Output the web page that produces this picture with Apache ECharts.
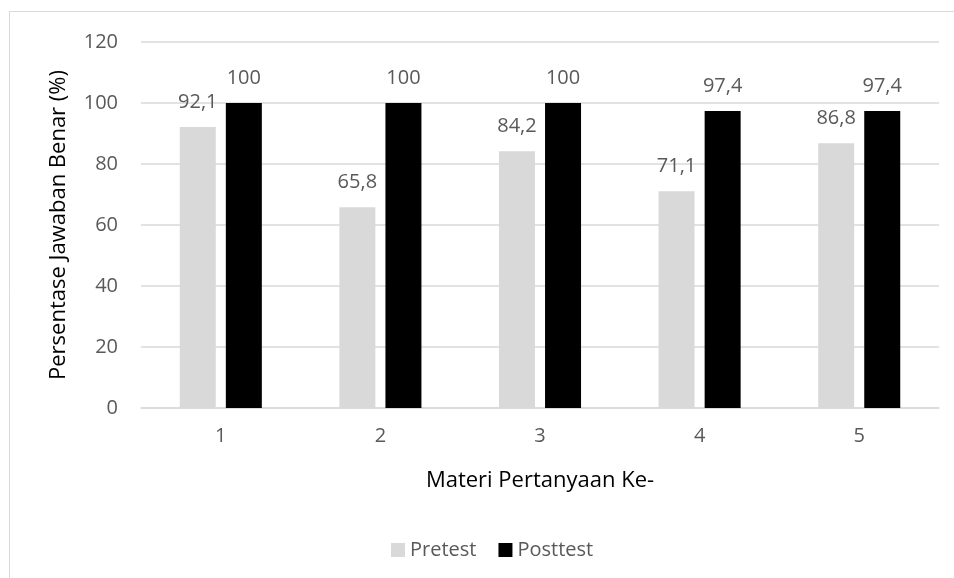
<!DOCTYPE html>
<html>
<head>
<meta charset="utf-8">
<script src="https://cdn.jsdelivr.net/npm/echarts@6/dist/echarts.min.js"></script>
<style>
html,body{margin:0;padding:0;background:#fff;}
#c{width:954px;height:578px;}
</style>
</head>
<body>
<div id="c"></div>
<script>
const categories = ['1', '2', '3', '4', '5'];
const pretest = [92.1, 65.8, 84.2, 71.1, 86.8];
const posttest = [100, 100, 100, 97.4, 97.4];
const seriesNames = ['Pretest', 'Posttest'];
const yTicks = { min: 0, max: 120, interval: 20 };

const FONT = 'Open Sans';
const TXT = '#595959';
const fmt = p => String(p.value).replace('.', ',');

const chart = echarts.init(document.getElementById('c'), null, { renderer: 'canvas' });
chart.setOption({
  animation: false,
  backgroundColor: '#fff',
  textStyle: { fontFamily: FONT },
  graphic: [{
    type: 'rect',
    shape: { x: 9.5, y: 11.5, width: 1000, height: 1000 },
    style: { fill: 'none', stroke: '#d9d9d9', lineWidth: 1 },
    silent: true
  }],
  grid: { left: 141, right: 15, top: 42, bottom: 170, containLabel: false },
  legend: {
    data: seriesNames,
    top: 535,
    left: 386,
    itemWidth: 14,
    itemHeight: 14,
    itemGap: 22,
    icon: 'rect',
    textStyle: { color: TXT, fontSize: 20, fontFamily: FONT }
  },
  xAxis: {
    type: 'category',
    data: categories,
    name: 'Materi Pertanyaan Ke-',
    nameLocation: 'middle',
    nameGap: 62,
    nameTextStyle: { color: '#000', fontSize: 22, fontFamily: FONT },
    axisLine: { lineStyle: { color: '#d9d9d9', width: 1.5 } },
    axisTick: { show: false },
    axisLabel: { color: TXT, fontSize: 20, margin: 18, fontFamily: FONT }
  },
  yAxis: {
    type: 'value',
    min: yTicks.min,
    max: yTicks.max,
    interval: yTicks.interval,
    name: 'Persentase Jawaban Benar (%)',
    nameLocation: 'middle',
    nameGap: 71,
    nameTextStyle: { color: '#000', fontSize: 22, fontFamily: FONT },
    axisLine: { show: false },
    axisTick: { show: false },
    axisLabel: { color: TXT, fontSize: 20, margin: 23, fontFamily: FONT },
    splitLine: { lineStyle: { color: '#d9d9d9', width: 1.5 } }
  },
  series: [
    {
      name: seriesNames[0],
      type: 'bar',
      data: pretest,
      barWidth: 36,
      barGap: '28%',
      itemStyle: { color: '#d9d9d9' },
      label: { show: true, position: 'top', distance: 15, color: TXT, fontSize: 20, fontFamily: FONT, formatter: fmt }
    },
    {
      name: seriesNames[1],
      type: 'bar',
      data: posttest,
      barWidth: 36,
      itemStyle: { color: '#000000' },
      label: { show: true, position: 'top', distance: 15, color: TXT, fontSize: 20, fontFamily: FONT, formatter: fmt }
    }
  ]
});
</script>
</body>
</html>
